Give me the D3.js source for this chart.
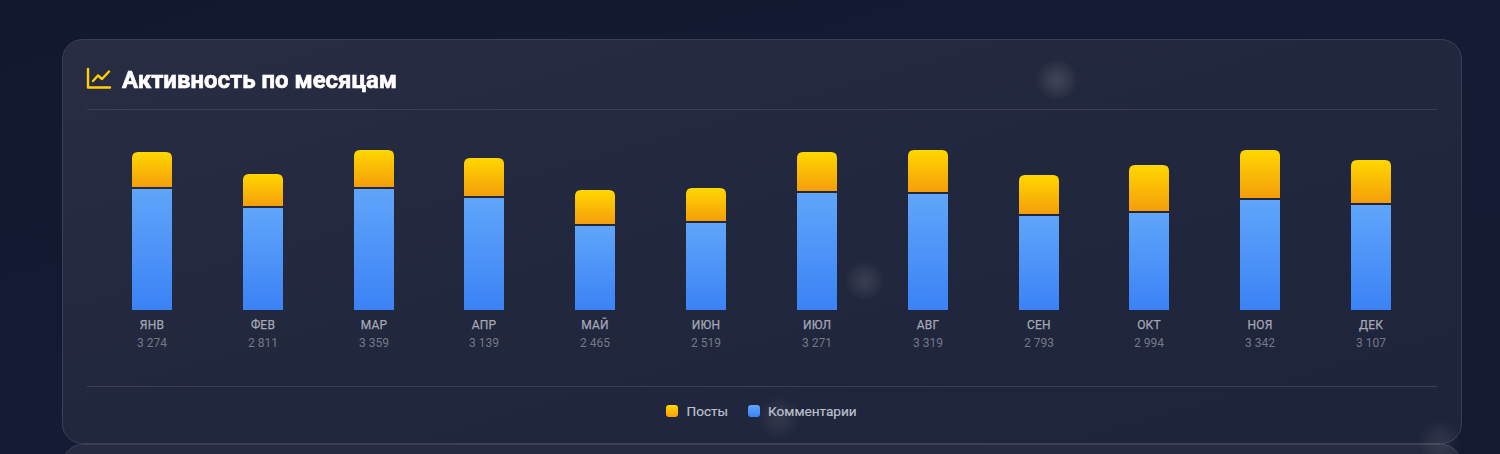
<!DOCTYPE html>
<html lang="ru">
<head>
<meta charset="utf-8">
<style>
html,body{margin:0;padding:0;background:#131a31;overflow:hidden}
svg{display:block}
text{font-family:Roboto,sans-serif}
</style>
<script src="https://cdn.jsdelivr.net/npm/d3@7/dist/d3.min.js"></script>
</head>
<body>
<svg id="chart" width="1500" height="454"></svg>
<script>
const months = ["ЯНВ","ФЕВ","МАР","АПР","МАЙ","ИЮН","ИЮЛ","АВГ","СЕН","ОКТ","НОЯ","ДЕК"];
const posts = [732,669,787,794,711,690,815,880,815,961,1012,899];
const comments = [2542,2142,2572,2345,1754,1829,2456,2439,1978,2033,2330,2208];
const seriesNames = ["Посты","Комментарии"];
const titleText = "Активность по месяцам";
// soft background glows: x, y, radius, strength
const glows = [[1057,80,21,1],[865,281,20,0.85],[779,418,22,0.6],[1440,442,22,0.6]];

const svg = d3.select("#chart");
const defs = svg.append("defs");

function linear(id, stops, x2 = 0, y2 = 1) {
  const g = defs.append("linearGradient").attr("id", id)
    .attr("x1", 0).attr("y1", 0).attr("x2", x2).attr("y2", y2);
  stops.forEach(([o, c]) => g.append("stop").attr("offset", o).attr("stop-color", c));
}
linear("page", [[0,"#11182f"],[0.5,"#141b34"],[1,"#131a31"]], 1, 1);
linear("card", [[0,"#282d43"],[0.5,"#21273d"],[1,"#1e243b"]], 1, 1);
linear("yellow", [[0,"#ffd700"],[1,"#f59e0b"]]);
linear("blue", [[0,"#60a5fa"],[1,"#3b82f6"]]);
const rg = defs.append("radialGradient").attr("id", "glow");
rg.append("stop").attr("offset", 0).attr("stop-color", "#fff").attr("stop-opacity", 0.13);
rg.append("stop").attr("offset", 0.4).attr("stop-color", "#fff").attr("stop-opacity", 0.09);
rg.append("stop").attr("offset", 1).attr("stop-color", "#fff").attr("stop-opacity", 0);
defs.append("filter").attr("id", "soft").append("feGaussianBlur").attr("stdDeviation", 0.3);

svg.append("rect").attr("width", 1500).attr("height", 454).attr("fill", "url(#page)");

// following card peeks out below the main one
svg.append("rect").attr("x", 62.5).attr("y", 444.5).attr("width", 1399).attr("height", 60).attr("rx", 20)
  .attr("fill", "#262b41").attr("stroke", "#3a3f55");

// main card
svg.append("rect").attr("x", 62.5).attr("y", 39.5).attr("width", 1399).attr("height", 404).attr("rx", 20)
  .attr("fill", "url(#card)").attr("stroke", "#3a3f55");

svg.append("g").selectAll("circle").data(glows).join("circle")
  .attr("cx", d => d[0]).attr("cy", d => d[1]).attr("r", d => d[2]).attr("opacity", d => d[3]).attr("fill", "url(#glow)");

// header
const icon = svg.append("g").attr("fill", "none").attr("stroke", "#ffd000").attr("stroke-width", 2.4)
  .attr("stroke-linecap", "round").attr("stroke-linejoin", "round");
icon.append("path").attr("d", d3.line()([[88,69],[88,87.5],[110,87.5]]));
icon.append("path").attr("d", d3.line()([[93,81],[98,75.5],[102,79],[109,71.5]]));

svg.append("text").attr("x", 122).attr("y", 88).attr("fill", "#fff")
  .attr("font-size", 24).attr("font-weight", 700).attr("textLength", 275).attr("lengthAdjust", "spacingAndGlyphs")
  .attr("filter", "url(#soft)").attr("stroke", "#fff").attr("stroke-width", 0.6).text(titleText);

svg.selectAll("line.rule").data([109.5, 386.5]).join("line").attr("class", "rule")
  .attr("x1", 87).attr("x2", 1437).attr("y1", d => d).attr("y2", d => d).attr("stroke", "#3a3f55");

// stacked bars: heights round up to whole pixels, total capped at the plot's maximum
const x = d3.scaleBand().domain(months).range([96.6, 1426.4]);
const barW = 40, baseY = 310, gap = 2;
const h = d3.scaleLinear().domain([0, 3318]).range([0, 158]).clamp(true);
const fmt = d3.formatLocale({decimal: ",", thousands: "\u00a0", grouping: [3], currency: ["", ""]}).format(",d");

const rows = months.map((m, i) => {
  const total = posts[i] + comments[i];
  const H = Math.ceil(h(total));
  const pH = Math.round(H * posts[i] / total), cH = H - pH;
  return {m, total, pH, cH, cx: x(m) + x.bandwidth() / 2};
});

const bars = svg.append("g").selectAll("g").data(rows).join("g")
  .attr("transform", d => `translate(${Math.round(d.cx - barW / 2)},0)`);

bars.append("rect").attr("y", d => baseY - d.cH).attr("width", barW).attr("height", d => d.cH).attr("fill", "url(#blue)");
bars.append("path").attr("fill", "url(#yellow)").attr("d", d => {
  const t = baseY - d.cH - gap - d.pH, b = baseY - d.cH - gap, r = 6;
  return `M0,${b}V${t + r}Q0,${t} ${r},${t}H${barW - r}Q${barW},${t} ${barW},${t + r}V${b}Z`;
});

bars.append("text").attr("x", barW / 2).attr("y", 329).attr("text-anchor", "middle")
  .attr("font-size", 12).attr("letter-spacing", 0.2).attr("fill", "#a3a7b6")
  .attr("stroke", "#a3a7b6").attr("stroke-width", 0.25).text(d => d.m);
bars.append("text").attr("x", barW / 2).attr("y", 347).attr("text-anchor", "middle")
  .attr("font-size", 12).attr("fill", "#747989").text(d => fmt(d.total));

// legend
const legend = svg.append("g").selectAll("g").data(seriesNames).join("g")
  .attr("transform", (d, i) => `translate(${[666, 748][i]},405)`);
legend.append("rect").attr("width", 12).attr("height", 12).attr("rx", 3)
  .attr("fill", (d, i) => `url(#${["yellow", "blue"][i]})`);
legend.append("text").attr("x", (d, i) => [20.5, 20][i]).attr("y", 11).attr("font-size", 13.6)
  .attr("fill", "#bcc0cc").attr("stroke", "#bcc0cc").attr("stroke-width", 0.2).text(d => d);
</script>
</body>
</html>
